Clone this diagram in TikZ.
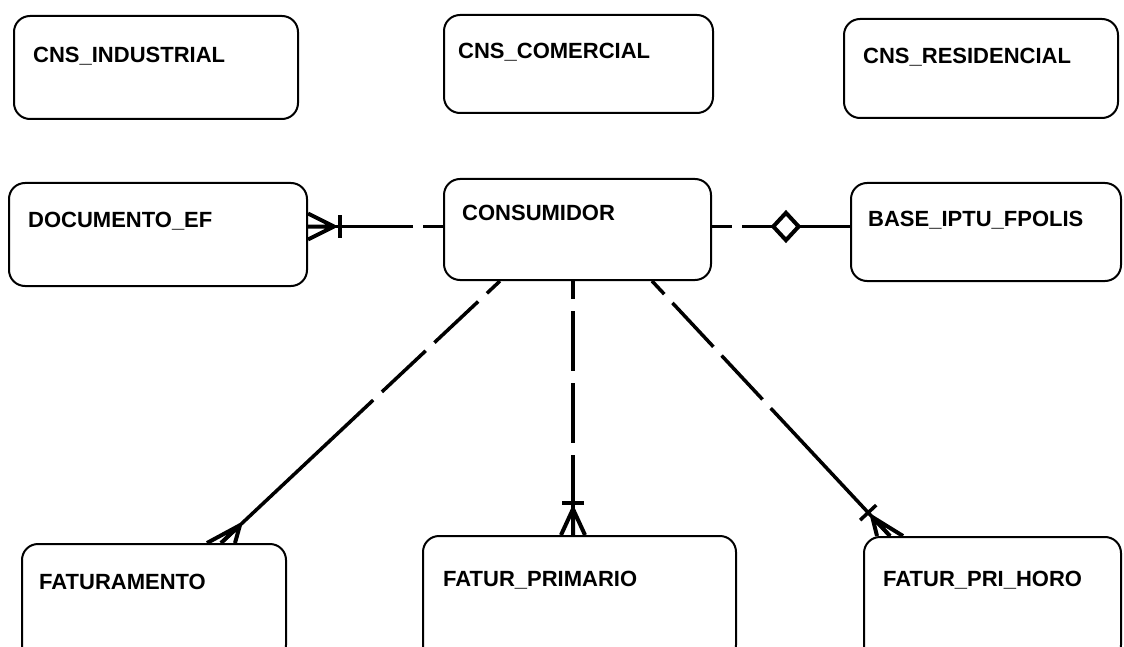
\documentclass[tikz,border=0pt]{standalone}
\usepackage{fontspec}
\setmainfont{Liberation Sans}
\usetikzlibrary{calc,shapes.geometric}

\tikzset{
  entity/.style={draw, line width=2pt, rounded corners=16pt, inner sep=0pt, anchor=north west},
  ename/.style={anchor=base west, inner sep=0pt, font=\fontsize{22}{26}\selectfont\bfseries},
  rel/.style={line width=3.5pt},
  nonid/.style={rel, dash pattern=on 18pt off 12pt on 60pt off 12pt on 60pt off 12pt on 2000pt off 0pt},
  sidelink/.style={rel, dash pattern=on 20pt off 10pt on 2000pt off 0pt},
  foot/.style={line width=4pt, solid},
  optdiamond/.style={diamond, draw, solid, line width=4pt, fill=white, inner sep=0pt, minimum width=27pt, minimum height=29pt},
}

% crow's foot at the entity end #2 of a relationship coming from #1;
% its toes sit on the entity's edge, #3 apart from the end point
\newcommand\erfoot[3]{%
  \path ($(#2)!26pt!(#1)$) coordinate (apx);
  \draw[foot] (apx) -- ([shift={(#3)}]#2)
              (apx) -- (#2)
              (apx) -- ([shift={($(0,0)-(#3)$)}]#2);
}
% cardinality bar across the relationship near #2
\newcommand\erbar[2]{%
  \path ($(#2)!32pt!(#1)$) coordinate (barc);
  \draw[rel] ($(barc)!11pt!90:(#2)$) -- ($(barc)!11pt!-90:(#2)$);
}

\begin{document}
\begin{tikzpicture}[x=1pt, y=-1pt]
\path[use as bounding box, clip] (0,0) rectangle (1124,647);
\fill[white] (0,0) rectangle (1124,647);

% entities
\node (ind)  [entity, minimum width=284pt, minimum height=103pt] at (13,15)  {};
\node (com)  [entity, minimum width=269pt, minimum height=98pt]  at (443,14) {};
\node (res)  [entity, minimum width=274pt, minimum height=99pt]  at (843,18) {};
\node (doc)  [entity, minimum width=298pt, minimum height=103pt] at (8,182)  {};
\node (cons) [entity, minimum width=267pt, minimum height=101pt] at (443,178) {};
\node (base) [entity, minimum width=270pt, minimum height=98pt]  at (850,182) {};
\node (fat)  [entity, minimum width=264pt, minimum height=117pt] at (21,543)  {};
\node (prim) [entity, minimum width=313pt, minimum height=125pt] at (422,535) {};
\node (horo) [entity, minimum width=257pt, minimum height=124pt] at (863,536) {};

% entity names
\node (indT)  [ename] at (33,63)   {CNS\_INDUSTRIAL};
\node (comT)  [ename] at (458,59)  {CNS\_COMERCIAL};
\node (resT)  [ename] at (863,64)  {CNS\_RESIDENCIAL};
\node (docT)  [ename] at (28,227)  {DOCUMENTO\_EF};
\node (consT) [ename] at (462,221) {CONSUMIDOR};
\node (baseT) [ename] at (868,226) {BASE\_IPTU\_FPOLIS};
\node (fatT)  [ename] at (39,589)  {FATURAMENTO};
\node (primT) [ename] at (443,586) {FATUR\_PRIMARIO};
\node (horoT) [ename] at (883,586) {FATUR\_PRI\_HORO};

% relationship end points
\coordinate (cw) at ([yshift=3pt]cons.west);
\coordinate (dw) at (cw -| doc.east);
\coordinate (ce) at ([yshift=3pt]cons.east);
\coordinate (be) at (ce -| base.west);
\coordinate (cs1) at ([xshift=57pt]cons.south west);
\coordinate (fe)  at ([xshift=200pt]fat.north west);
\coordinate (cs2) at ([xshift=130pt]cons.south west);
\coordinate (pe)  at (cs2 |- prim.north);
\coordinate (cs3) at ([xshift=209pt]cons.south west);
\coordinate (he)  at ([xshift=27pt]horo.north west);

% CONSUMIDOR -- DOCUMENTO_EF
\draw[sidelink] (cw) -- (dw);
\erbar{cw}{dw}
\erfoot{cw}{dw}{0,13}

% CONSUMIDOR -- BASE_IPTU_FPOLIS
\draw[sidelink] (ce) -- node[optdiamond, pos=0.536] (dia) {} (be);

% CONSUMIDOR -- FATURAMENTO
\draw[nonid] (cs1) -- (fe);
\erfoot{cs1}{fe}{14,0}

% CONSUMIDOR -- FATUR_PRIMARIO
\draw[nonid] (cs2) -- (pe);
\erbar{cs2}{pe}
\erfoot{cs2}{pe}{12,0}

% CONSUMIDOR -- FATUR_PRI_HORO
\draw[nonid] (cs3) -- (he);
\erbar{cs3}{he}
\erfoot{cs3}{he}{13,0}
\end{tikzpicture}
\end{document}
